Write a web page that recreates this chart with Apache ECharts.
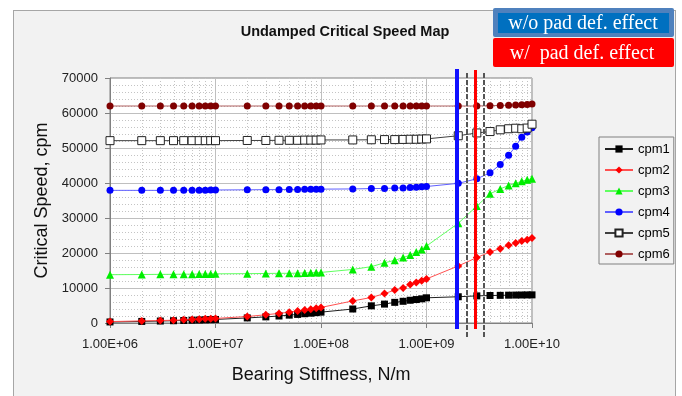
<!DOCTYPE html>
<html>
<head>
<meta charset="utf-8">
<script src="https://cdn.jsdelivr.net/npm/echarts@6/dist/echarts.min.js"></script>
<style>
html, body { margin: 0; padding: 0; background: #fff; overflow: hidden; }
#frame { position: absolute; left: 13px; top: 10px; width: 661px; height: 400px; background: #f2f2f2; border: 1px solid #a6a6a6; }
#chart { position: absolute; left: 0; top: 0; width: 682px; height: 396px; }
</style>
</head>
<body>
<div id="frame"></div>
<div id="chart"></div>
<script>
// bearing stiffness, N/m
const stiffness = [
  1e6, 2e6, 3e6, 4e6, 5e6, 6e6, 7e6, 8e6, 9e6, 1e7,
  2e7, 3e7, 4e7, 5e7, 6e7, 7e7, 8e7, 9e7, 1e8,
  2e8, 3e8, 4e8, 5e8, 6e8, 7e8, 8e8, 9e8, 1e9,
  2e9, 3e9, 4e9, 5e9, 6e9, 7e9, 8e9, 9e9, 1e10
];

// critical speeds, cpm
const cpm1 = [
  300, 450, 560, 650, 720, 790, 850, 910, 960, 1010,
  1450, 1750, 2000, 2250, 2450, 2650, 2800, 2950, 3100,
  4000, 4900, 5400, 5900, 6200, 6500, 6700, 6900, 7200,
  7500, 7750, 7850, 7900, 7950, 7980, 8000, 8020, 8040
];
const cpm2 = [
  400, 600, 700, 800, 900, 1000, 1100, 1200, 1250, 1300,
  1850, 2350, 2750, 3100, 3400, 3700, 3950, 4200, 4450,
  6300, 7300, 8400, 9400, 10000, 11000, 11600, 12100, 12600,
  16300, 18700, 20300, 21250, 22200, 22850, 23400, 23800, 24300
];
const cpm3 = [
  13800, 13850, 13900, 13900, 13950, 13950, 14000, 14000, 14000, 14050,
  14100, 14150, 14200, 14200, 14250, 14300, 14350, 14400, 14450,
  15300, 16100, 17200, 17900, 18700, 19400, 20300, 21000, 22000,
  28500, 33400, 36900, 38300, 39300, 39900, 40500, 40900, 41200
];
const cpm4 = [
  37900, 37900, 37900, 37900, 37950, 37950, 37950, 37950, 38000, 38000,
  38050, 38100, 38100, 38150, 38150, 38200, 38200, 38250, 38250,
  38300, 38400, 38450, 38550, 38600, 38700, 38800, 38900, 39000,
  39900, 41200, 42900, 45300, 47900, 50500, 53100, 54600, 55800
];
const cpm5 = [
  52100, 52100, 52100, 52100, 52100, 52100, 52100, 52100, 52100, 52100,
  52150, 52150, 52200, 52200, 52200, 52250, 52250, 52250, 52300,
  52300, 52350, 52400, 52400, 52450, 52500, 52500, 52550, 52600,
  53500, 54300, 54700, 55200, 55500, 55650, 55500, 55700, 56800
];
const cpm6 = [
  62000, 62000, 62000, 62000, 62000, 62000, 62000, 62000, 62000, 62000,
  62000, 62000, 62000, 62000, 62000, 62000, 62000, 62000, 62000,
  62000, 62000, 62000, 62000, 62000, 62000, 62000, 62000, 62000,
  62000, 62000, 62100, 62150, 62250, 62300, 62350, 62400, 62600
];

// dotted minor grid positions on the log axis
const minorStiffness = [
  2e6, 3e6, 4e6, 5e6, 6e6, 7e6, 8e6, 9e6,
  2e7, 3e7, 4e7, 5e7, 6e7, 7e7, 8e7, 9e7,
  2e8, 3e8, 4e8, 5e8, 6e8, 7e8, 8e8, 9e8,
  2e9, 3e9, 4e9, 5e9, 6e9, 7e9, 8e9, 9e9
];

// reference stiffness lines
const woPadStiffness = [1.95e9];
const wPadStiffness = [2.87e9];
const rangeStiffness = [2.44e9, 3.5e9];

const yMax = 70000;

const chart = echarts.init(document.getElementById('chart'), null, { renderer: 'canvas' });

const pairs = (vals) => stiffness.map((k, i) => [k, vals[i]]);

const fmtExp = (v) => {
  const e = Math.floor(Math.log10(v) + 1e-9);
  const m = v / Math.pow(10, e);
  return m.toFixed(2) + 'E+' + String(e).padStart(2, '0');
};

const vLine = (stroke, width, dash, up, down) => (params, api) => {
  const k = api.value(0);
  const top = api.coord([k, yMax]);
  const bot = api.coord([k, 0]);
  const x = Math.round(top[0]) + (width % 2 ? 0.5 : 0);
  return {
    type: 'line',
    shape: { x1: x, y1: top[1] - up, x2: x, y2: bot[1] + down },
    style: { stroke: stroke, lineWidth: width, lineDash: dash }
  };
};

const lineSeries = (name, vals, symbol, size, color, lineColor, extra) => Object.assign({
  name: name,
  type: 'line',
  data: pairs(vals),
  symbol: symbol,
  symbolSize: size,
  itemStyle: { color: color },
  lineStyle: { color: lineColor, width: 1 },
  emphasis: { disabled: true },
  z: 3
}, extra || {});

const font = 'Liberation Sans, Arial, sans-serif';
const serif = 'Liberation Serif, Times New Roman, serif';

const option = {
  animation: false,
  textStyle: { fontFamily: font },
  title: {
    text: 'Undamped Critical Speed Map',
    left: 340,
    top: 19,
    textAlign: 'center',
    textStyle: { fontSize: 14.5, fontWeight: 'bold', color: '#111', fontFamily: font }
  },
  grid: {
    left: 110, right: 150, top: 78, bottom: 73,
    show: true, backgroundColor: '#fff', borderColor: '#808080', borderWidth: 1
  },
  legend: {
    orient: 'vertical',
    left: 599, top: 137,
    padding: [5, 4, 3, 5],
    itemWidth: 28, itemHeight: 9, itemGap: 7,
    borderColor: '#808080', borderWidth: 1,
    backgroundColor: 'transparent',
    data: ['cpm1', 'cpm2', 'cpm3', 'cpm4', 'cpm5', 'cpm6'],
    textStyle: { fontSize: 13, color: '#000', lineHeight: 14, fontFamily: font }
  },
  xAxis: {
    type: 'log',
    logBase: 10,
    min: 1e6,
    max: 1e10,
    name: 'Bearing Stiffness, N/m',
    nameLocation: 'middle',
    nameGap: 43,
    nameTextStyle: { fontSize: 18, color: '#111', fontFamily: font },
    axisLine: { lineStyle: { color: '#808080' } },
    axisTick: { show: true, length: 5, lineStyle: { color: '#808080' } },
    axisLabel: { formatter: fmtExp, fontSize: 13, color: '#222', margin: 15 },
    splitLine: { show: true, lineStyle: { color: '#bfbfbf', width: 1 } }
  },
  yAxis: {
    type: 'value',
    min: 0,
    max: yMax,
    interval: 10000,
    name: 'Critical Speed, cpm',
    nameLocation: 'middle',
    nameGap: 58,
    nameTextStyle: { fontSize: 18, color: '#111', fontFamily: font },
    axisLine: { show: true, lineStyle: { color: '#808080' } },
    axisTick: { show: true, length: 5, lineStyle: { color: '#808080' } },
    axisLabel: { fontSize: 13, color: '#222', margin: 12, formatter: (v) => String(v) },
    splitLine: { show: true, lineStyle: { color: '#bfbfbf', width: 1 } },
    minorTick: { show: false, splitNumber: 5 },
    minorSplitLine: { show: true, lineStyle: { color: '#c4c4c4', type: [1, 2] } }
  },
  series: [
    {
      type: 'custom',
      name: 'minor',
      data: minorStiffness.map((k) => [k, 0]),
      renderItem: vLine('#c4c4c4', 1, [1, 2], 0, 0),
      silent: true,
      z: 1
    },
    lineSeries('cpm1', cpm1, 'rect', 7, '#000', '#202020'),
    lineSeries('cpm2', cpm2, 'diamond', 8, '#ff0000', '#ff5050'),
    lineSeries('cpm3', cpm3, 'triangle', 8, '#00ee00', '#60ff60'),
    lineSeries('cpm4', cpm4, 'circle', 7, '#0000ff', '#6060ff'),
    lineSeries('cpm5', cpm5, 'rect', 8, '#fff', '#404040', {
      itemStyle: { color: '#fff', borderColor: '#222', borderWidth: 1 }
    }),
    lineSeries('cpm6', cpm6, 'circle', 7, '#800000', '#b06060'),
    {
      type: 'custom',
      name: 'range',
      data: rangeStiffness.map((k) => [k, 0]),
      renderItem: vLine('#555', 2, [5, 2], 5, 15),
      clip: false,
      silent: true,
      z: 5
    },
    {
      type: 'custom',
      name: 'wo',
      data: woPadStiffness.map((k) => [k, 0]),
      renderItem: vLine('#1010ff', 4, null, 9, 6),
      clip: false,
      silent: true,
      z: 6
    },
    {
      type: 'custom',
      name: 'w',
      data: wPadStiffness.map((k) => [k, 0]),
      renderItem: vLine('#ff0000', 3, null, 8, 6),
      clip: false,
      silent: true,
      z: 6
    }
  ],
  graphic: [
    {
      type: 'rect', z: 10,
      shape: { x: 493, y: 8, width: 181, height: 29, r: 2 },
      style: { fill: '#4f81bd' }
    },
    {
      type: 'rect', z: 11,
      shape: { x: 498, y: 13, width: 171, height: 20 },
      style: { fill: '#0070c0' }
    },
    {
      type: 'text', z: 12,
      x: 583, y: 24,
      style: {
        text: 'w/o pad def. effect', fill: '#fff',
        font: '20px ' + serif, textAlign: 'center', textVerticalAlign: 'middle'
      }
    },
    {
      type: 'rect', z: 10,
      shape: { x: 493, y: 38, width: 181, height: 29, r: 2 },
      style: { fill: '#ff0000' }
    },
    {
      type: 'text', z: 12,
      x: 582, y: 54,
      style: {
        text: 'w/  pad def. effect', fill: '#fff',
        font: '20px ' + serif, textAlign: 'center', textVerticalAlign: 'middle'
      }
    }
  ]
};

chart.setOption(option);
</script>
</body>
</html>
